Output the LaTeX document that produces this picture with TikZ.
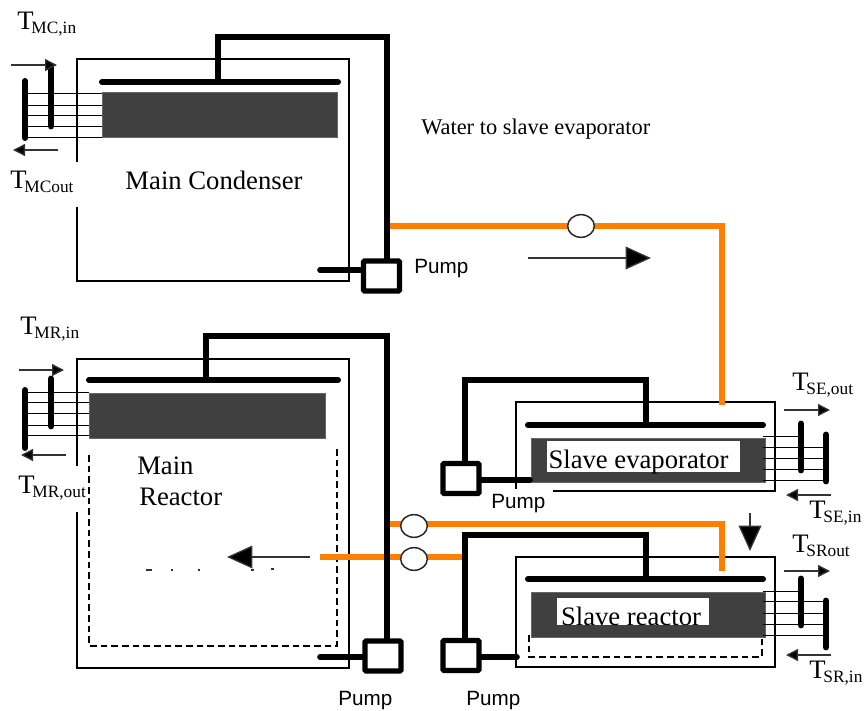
\documentclass[tikz,border=0pt]{standalone}
\usepackage{fontspec}
\setmainfont{Liberation Serif}
\newfontfamily\pumpfont{Liberation Sans}
\usetikzlibrary{arrows.meta,shapes.geometric}
\definecolor{pipeorange}{HTML}{FF8000}
\definecolor{darkfill}{HTML}{404040}
\newcommand{\tlabel}[1]{{\fontsize{20}{22}\selectfont T}\kern-1.6pt\raisebox{-3pt}{\fontsize{13}{15}\selectfont #1}}
\tikzset{
  x=0.75pt,y=-0.75pt,
  vessel/.style={draw=black,line width=0.95pt},
  core/.style={fill=darkfill,draw=black!60,line width=0.6pt},
  tube/.style={draw=black,line width=0.75pt},
  bar/.style={draw=black,line width=4.5pt,line cap=round},
  thickbar/.style={draw=black,line width=5.2pt,line cap=round},
  blackpipe/.style={draw=black,line width=4.8pt,line cap=butt,line join=miter},
  stub/.style={draw=black,line width=4.2pt,line cap=round},
  orangepipe/.style={draw=pipeorange,line width=4.5pt,line join=miter},
  pumpbox/.style={draw=black,fill=white,line width=3.8pt,rounded corners=0.8pt,minimum width=27pt,minimum height=22.5pt,inner sep=0pt},
  valve/.style={draw=black!85,fill=white,line width=1.1pt,ellipse,minimum width=20pt,minimum height=17pt,inner sep=0pt},
  flow/.style={draw=black!80,line width=1pt,-{Triangle[length=9pt,width=9pt,fill=black]}},
  bigflow/.style={draw=black!80,line width=1pt,-{Triangle[length=19pt,width=17pt,fill=black]}},
  maintext/.style={inner sep=0pt,anchor=base,font=\fontsize{20}{22}\selectfont},
  pumptext/.style={inner sep=0pt,anchor=base west,font=\pumpfont\fontsize{15.5}{17}\selectfont},
  templabel/.style={inner sep=0pt,anchor=base west},
  dashbox/.style={draw=black,line width=0.85pt,dash pattern=on 5pt off 3pt},
  whitepatch/.style={fill=white,draw=none,inner sep=0pt},
  speck/.style={fill=black!80,draw=none,inner sep=0pt}
}
\begin{document}
\begin{tikzpicture}
\useasboundingbox (0,0) rectangle (865,711);

% ---------- named points
\coordinate (mcbarL) at (102,82);   \coordinate (mcbarR) at (338,82);
\coordinate (mcbarT) at (218,82);   \coordinate (mctop) at (218,37);
\coordinate (mrbarL) at (89,380);   \coordinate (mrbarR) at (338,380);
\coordinate (mrbarT) at (206,380);  \coordinate (mrtop) at (206,336);
\coordinate (sebarL) at (528,425);  \coordinate (sebarR) at (763,425);
\coordinate (sebarT) at (646,425);  \coordinate (setop) at (646,380);
\coordinate (srbarL) at (528,579);  \coordinate (srbarR) at (763,579);
\coordinate (srbarT) at (646,579);  \coordinate (srtop) at (646,535);

% ---------- vessels
\draw[vessel] (77,162) -- (77,59) -- (349,59) -- (349,281) -- (77,281) -- (77,207);
\draw[vessel] (77,466) -- (77,359) -- (349,359) -- (349,668) -- (77,668) -- (77,512);
\draw[vessel] (516,489) -- (516,402) -- (775,402) -- (775,491) -- (553,491);
\draw[vessel] (516,557) rectangle (775,667);

% ---------- dashed interiors
\draw[dashbox] (89,455) -- (89,646) -- (337,646) -- (337,447);
\draw[dashbox] (529,635) -- (529,657) -- (762,657) -- (762,637);

% ---------- cores
\fill[core] (102,92) rectangle (337,137);
\fill[core] (89,393) rectangle (325,438);
\fill[core] (531,438) rectangle (765,482);
\fill[core] (531,592) rectangle (765,637);
\node[whitepatch,minimum width=144.75pt,minimum height=23.25pt] (sepatch) at (643.5,456.5) {};
\node[whitepatch,minimum width=114pt,minimum height=20.25pt] (srpatch) at (633,611.5) {};

% ---------- heat-exchange tubes
\foreach \yy in {93,105,115,126,137} \draw[tube] (28,\yy) -- (102,\yy);
\foreach \yy in {392,402,413,425,435} \draw[tube] (28,\yy) -- (89,\yy);
\foreach \yy in {447,458,469,480} \draw[tube] (763,\yy) -- (826,\yy);
\draw[tube] (763,436) -- (801,436);
\foreach \yy in {601,613,624,635} \draw[tube] (763,\yy) -- (826,\yy);
\draw[tube] (763,591) -- (801,591);

% ---------- tube headers
\draw[bar] (25,81) -- (25,138);   \draw[thickbar] (51,68) -- (51,126);
\draw[bar] (25,390) -- (25,448);  \draw[thickbar] (51,379) -- (51,426);
\draw[thickbar] (801,424) -- (801,470); \draw[thickbar] (826,435) -- (826,481);
\draw[thickbar] (801,579) -- (801,625); \draw[thickbar] (826,601) -- (826,647);

% ---------- orange water lines
\coordinate (orA) at (390,226);  \coordinate (orB) at (722,405);
\coordinate (orC) at (390,524);  \coordinate (orD) at (722,571);
\coordinate (orE) at (320,557);  \coordinate (orF) at (463,557);
\draw[orangepipe] (orA) -| (orB);
\draw[orangepipe] (orC) -| (orD);
\draw[orangepipe] (orE) -- (orF);

% ---------- pumps
\node[pumpbox] (pumpMC) at (381.5,276) {};
\node[pumpbox] (pumpMR) at (383,656) {};
\node[pumpbox] (pumpSE) at (461,478.5) {};
\node[pumpbox] (pumpSR) at (461,655.5) {};

% ---------- black pipework
\draw[bar] (mcbarL) -- (mcbarR);
\draw[bar] (mrbarL) -- (mrbarR);
\draw[bar] (sebarL) -- (sebarR);
\draw[bar] (srbarL) -- (srbarR);
\draw[blackpipe] (mcbarT) -- (mctop) -| (387,259);
\draw[blackpipe] (mrbarT) -- (mrtop) -| (387,639);
\draw[blackpipe] (sebarT) -- (setop) -| (465,461);
\draw[blackpipe] (srbarT) -- (srtop) -| (465,638);
\draw[stub] (320,270) -- (pumpMC.west |- 0,270);
\draw[stub] (320,657) -- (pumpMR.west |- 0,657);
\draw[stub] (pumpSE.east |- 0,480) -- (530,480);
\draw[stub] (pumpSR.east |- 0,657) -- (517,657);

% ---------- valves
\node[valve] (valveA) at (581,226) {};
\node[valve] (valveB) at (414,526) {};
\node[valve] (valveC) at (414,559) {};

% ---------- flow arrows
\coordinate (fa1) at (528,258); \coordinate (fa2) at (651,258);
\draw[bigflow] (fa1) -- (fa2);
\coordinate (fb1) at (310,557); \coordinate (fb2) at (227,557);
\draw[bigflow] (fb1) -- (fb2);
\coordinate (fc1) at (750,513); \coordinate (fc2) at (750,551);
\draw[bigflow] (fc1) -- (fc2);
\foreach \xa/\ya/\xb/\yb in {11/65/57/65, 58/150/13/150, 19/370/64/370, 66/455/21/455,
   784/410/830/410, 831/495/786/495, 784/571/830/571, 831/655/786/655}
  \draw[flow] (\xa,\ya) -- (\xb,\yb);

% ---------- specks of erased text
\foreach \xx/\yy/\ww in {149/570/6, 172/570/2, 199/570/2, 252/570/3, 272/569/3}
  \fill[speck] (\xx-\ww/2,\yy-1) rectangle (\xx+\ww/2,\yy+1);

% ---------- texts
\node[maintext] (tMC) at (214,189) {Main Condenser};
\node[maintext,anchor=base west] (tMR1) at (137,474) {Main};
\node[maintext,anchor=base west] (tMR2) at (139,505) {Reactor};
\node[maintext] (tSE) at (638.5,468) {Slave evaporator};
\node[maintext] (tSR) at (631,625) {Slave reactor};
\node[inner sep=0pt,anchor=base west,font=\fontsize{16.8}{18}\selectfont] (tW) at (421,134) {Water to slave evaporator};
\node[pumptext] (pl1) at (414,273) {Pump};
\node[pumptext] (pl2) at (491,508) {Pump};
\node[pumptext] (pl3) at (338,705.5) {Pump};
\node[pumptext] (pl4) at (466,705.5) {Pump};
\node[templabel] (l1) at (17,29) {\tlabel{MC,in}};
\node[templabel] (l2) at (10,188) {\tlabel{MCout}};
\node[templabel] (l3) at (20,334) {\tlabel{MR,in}};
\node[templabel] (l4) at (18,493) {\tlabel{MR,out}};
\node[templabel] (l5) at (792,390) {\tlabel{SE,out}};
\node[templabel] (l6) at (809,518) {\tlabel{SE,in}};
\node[templabel] (l7) at (792,552) {\tlabel{SRout}};
\node[templabel] (l8) at (809,678) {\tlabel{SR,in}};
\end{tikzpicture}
\end{document}
